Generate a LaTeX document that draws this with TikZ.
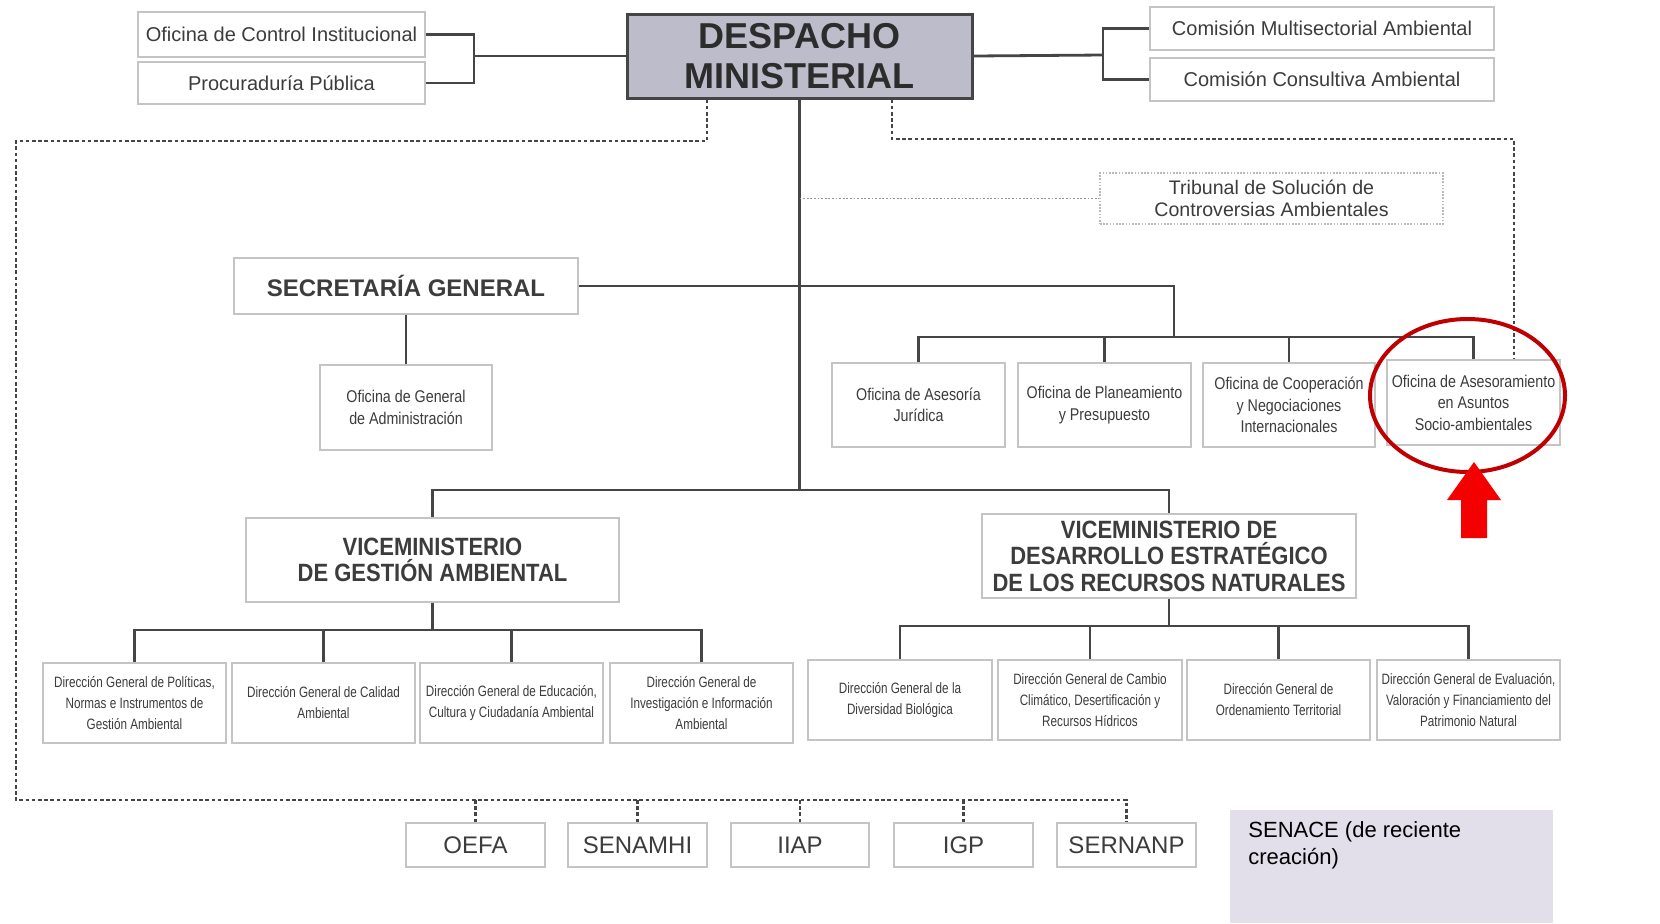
\documentclass[tikz,border=0pt]{standalone}
\usepackage{fontspec}
\setmainfont{Liberation Sans}
\newfontfamily\condf[FakeStretch=0.78]{Liberation Sans}
\newfontfamily\offf[FakeStretch=0.84]{Liberation Sans}
\newfontfamily\vicef[FakeStretch=0.88]{Liberation Sans}
\usetikzlibrary{calc,shapes.geometric}
\definecolor{txt}{HTML}{3C3C3C}
\definecolor{txtdark}{HTML}{2C2C2C}
\definecolor{ln}{HTML}{454545}
\definecolor{bxl}{HTML}{C4C4C4}
\definecolor{dmfill}{HTML}{BDBCCA}
\definecolor{senfill}{HTML}{E2DEEA}
\definecolor{hlred}{HTML}{C00000}
\definecolor{arrred}{HTML}{F50000}
\begin{document}
\begin{tikzpicture}[x=0.5pt,y=-0.5pt,
  wh/.style 2 args={minimum width={#1*0.5pt}, minimum height={#2*0.5pt}},
  bx/.style={draw=bxl, line width=0.8pt, fill=white, inner sep=0pt, align=center, text=txt, font=\fontsize{10pt}{11pt}\selectfont},
  offb/.style={font=\offf\fontsize{8.5pt}{10.75pt}\selectfont},
  dirb/.style={font=\condf\fontsize{7.5pt}{10.5pt}\selectfont},
  vice/.style={font=\vicef\bfseries\fontsize{12.5pt}{13.25pt}\selectfont},
  agency/.style={font=\fontsize{12pt}{13pt}\selectfont},
  conn/.style={draw=ln, line width=1.4pt},
  dsh/.style={draw=ln, line width=1.2pt, dash pattern=on 1.8pt off 1.3pt},
  dotl/.style={draw=gray!85, line width=0.9pt, dash pattern=on 0.9pt off 0.9pt}
]
\useasboundingbox (0,0) rectangle (1660,923);

% top
\node[bx, wh={287}{45}] (oci) at (281.5,34.5) {Oficina de Control Institucional};
\node[bx, wh={287}{42}] (pp) at (281.5,83) {Procuraduría Pública};
\node[draw=ln, line width=1.5pt, fill=dmfill, wh={345}{84}, inner sep=0pt, align=center,
      font=\fontsize{18pt}{20pt}\selectfont\bfseries, text=txtdark] (dm) at (799.5,56) {DESPACHO\\MINISTERIAL};
\node[bx, wh={344}{43}] (cma) at (1322,28.5) {Comisión Multisectorial Ambiental};
\node[bx, wh={344}{43}] (cca) at (1322,79.5) {Comisión Consultiva Ambiental};
\node[bx, draw=gray!55, dash pattern=on 0.8pt off 0.8pt, wh={343}{51}, font=\fontsize{9.8pt}{11pt}\selectfont] (trib) at (1271.5,198.5) {Tribunal de Solución de\\Controversias Ambientales};

% secretaria
\node[bx, wh={344}{56}, font=\fontsize{12pt}{14pt}\selectfont\bfseries] (sg) at (406,286) {SECRETARÍA GENERAL};
\node[bx, offb, wh={172}{85}] (oga) at (406,407.5) {Oficina de General\\de Administración};
\node[bx, offb, wh={173}{84}] (oaj) at (918.5,405) {Oficina de Asesoría\\Jurídica};
\node[bx, offb, wh={173}{84}] (opp) at (1104.5,405) {Oficina de Planeamiento\\y Presupuesto};
\node[bx, offb, wh={172}{84}] (ocn) at (1289,405) {Oficina de Cooperación\\y Negociaciones\\Internacionales};
\node[bx, offb, wh={173}{85}] (oas) at (1473.5,402.5) {Oficina de Asesoramiento\\en Asuntos\\Socio-ambientales};

% viceministerios
\node[bx, vice, wh={373}{84}] (vga) at (432.5,560) {VICEMINISTERIO\\DE GESTIÓN AMBIENTAL};
\node[bx, vice, wh={374}{84}] (vde) at (1169,556) {VICEMINISTERIO DE\\DESARROLLO ESTRATÉGICO\\DE LOS RECURSOS NATURALES};

% direcciones
\node[bx, dirb, wh={183}{80}] (d1) at (134.5,703) {Dirección General de Políticas,\\Normas e Instrumentos de\\Gestión Ambiental};
\node[bx, dirb, wh={183}{80}] (d2) at (323.5,703) {Dirección General de Calidad\\Ambiental};
\node[bx, dirb, wh={183}{80}] (d3) at (511.5,703) {Dirección General de Educación,\\Cultura y Ciudadanía Ambiental};
\node[bx, dirb, wh={183}{80}] (d4) at (701.5,703) {Dirección General de\\Investigación e Información\\Ambiental};
\node[bx, dirb, wh={184}{80}] (d5) at (900,700) {Dirección General de la\\Diversidad Biológica};
\node[bx, dirb, wh={184}{80}] (d6) at (1090,700) {Dirección General de Cambio\\Climático, Desertificación y\\Recursos Hídricos};
\node[bx, dirb, wh={183}{80}] (d7) at (1278.5,700) {Dirección General de\\Ordenamiento Territorial};
\node[bx, dirb, wh={183}{80}] (d8) at (1468.5,700) {Dirección General de Evaluación,\\Valoración y Financiamiento del\\Patrimonio Natural};

% agencies
\node[bx, agency, wh={139}{44}] (oefa) at (475.5,845) {OEFA};
\node[bx, agency, wh={139}{44}] (senamhi) at (637.5,845) {SENAMHI};
\node[bx, agency, wh={138}{44}] (iiap) at (800,845) {IIAP};
\node[bx, agency, wh={139}{44}] (igp) at (963.5,845) {IGP};
\node[bx, agency, wh={139}{44}] (sernanp) at (1126.5,845) {SERNANP};

% senace
\node[fill=senfill, wh={323}{113}, inner sep=0pt] (senace) at (1391.5,866.5) {};
\node[anchor=north west, align=left, inner sep=0pt, text=black, font=\fontsize{11pt}{13.5pt}\selectfont] (sentxt) at (1248,821) {SENACE (de reciente\\creación)};

% coordinates
\coordinate (lb) at (474,56);
\coordinate (rb) at (1103,55);
\coordinate (mainj) at (800,490);
\coordinate (bus) at (1174,337);
\coordinate (lbus) at (432.5,630);
\coordinate (rbus) at (1169,626);
\coordinate (dtl) at (16,141);
\coordinate (dbl) at (16,800);
\coordinate (dtr) at (1514,139);

% solid connectors
\draw[conn] (oci.east) -| (lb) |- (pp.east);
\draw[conn] (dm.west) -- (lb);
\draw[conn] (cma.west) -| (rb) |- (cca.west);
\draw[conn] (dm.east) -- (rb);
\draw[conn] (dm.south) -- (dm.south |- mainj);
\draw[conn] (sg.east) -| (bus);
\draw[conn] (oaj.north) |- (bus) -| (oas.north);
\draw[conn] (opp.north) -- (opp.north |- bus);
\draw[conn] (ocn.north) -- (ocn.north |- bus);
\draw[conn] (sg.south) -- (oga.north);
\draw[conn] (vga.north) |- (mainj) -| (vde.north);
\draw[conn] (vga.south) -- (lbus);
\draw[conn] (d1.north) |- (lbus) -| (d4.north);
\draw[conn] (d2.north) -- (d2.north |- lbus);
\draw[conn] (d3.north) -- (d3.north |- lbus);
\draw[conn] (vde.south) -- (rbus);
\draw[conn] (d5.north) |- (rbus) -| (d8.north);
\draw[conn] (d6.north) -- (d6.north |- rbus);
\draw[conn] (d7.north) -- (d7.north |- rbus);

% dashed connectors
\draw[dsh] ($(dm.south)+(-92.5,0)$) |- (dtl) -- (dbl) -| (sernanp.north);
\draw[dsh] (oefa.north) -- (oefa.north |- dbl);
\draw[dsh] (senamhi.north) -- (senamhi.north |- dbl);
\draw[dsh] (iiap.north) -- (iiap.north |- dbl);
\draw[dsh] (igp.north) -- (igp.north |- dbl);
\draw[dsh] ($(dm.south)+(92.5,0)$) |- (dtr) -- (oas.north -| dtr);
\draw[dotl] (dm.south |- trib.west) -- (trib.west);

% highlight
\node[draw=hlred, line width=2pt, ellipse, minimum width=97.5pt, minimum height=76.5pt, inner sep=0pt] (hl) at (1467.5,395.5) {};
\fill[arrred] (1461,538) -- (1461,500) -- (1447,500) -- (1474,462) -- (1501,500) -- (1487,500) -- (1487,538) -- cycle;
\end{tikzpicture}
\end{document}
